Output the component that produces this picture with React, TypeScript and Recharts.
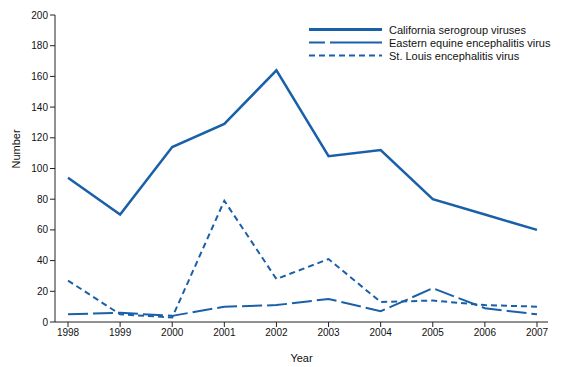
import { LineChart, Line, XAxis, YAxis } from "recharts";

const years = ["1998", "1999", "2000", "2001", "2002", "2003", "2004", "2005", "2006", "2007"];
const california = [94, 70, 114, 129, 164, 108, 112, 80, 70, 60];
const eastern = [5, 6, 4, 10, 11, 15, 7, 22, 9, 5];
const stLouis = [27, 5, 3, 79, 28, 41, 13, 14, 11, 10];
const yTicks = [0, 20, 40, 60, 80, 100, 120, 140, 160, 180, 200];

const data = years.map((year, i) => ({
  year,
  california: california[i],
  eastern: eastern[i],
  stLouis: stLouis[i],
}));

const BLUE = "#1a60a8";
const FONT = "'Liberation Sans', Arial, sans-serif";

const legendItems = [
  { label: "California  serogroup viruses", dash: undefined, width: 3 },
  { label: "Eastern equine encephalitis virus", dash: "16 5 60", width: 2 },
  { label: "St. Louis encephalitis virus", dash: "6 4", width: 2 },
];

// drawn outside the chart so it doesn't steal plot height
function LegendBox() {
  return (
    <div
      style={{
        position: "absolute",
        left: 309,
        top: 23,
        fontFamily: FONT,
        fontSize: 11,
        color: "#111",
      }}
    >
      {legendItems.map((item) => (
        <div key={item.label} style={{ display: "flex", alignItems: "center", height: 13 }}>
          <svg width={80} height={13}>
            <line
              x1={0}
              x2={73}
              y1={6.5}
              y2={6.5}
              stroke={BLUE}
              strokeWidth={item.width}
              strokeDasharray={item.dash}
            />
          </svg>
          <span>{item.label}</span>
        </div>
      ))}
    </div>
  );
}

export default function App() {
  return (
    <div style={{ position: "absolute", left: 0, top: 0, width: 565, height: 367, background: "#fff" }}>
      <LineChart
        width={565}
        height={367}
        data={data}
        margin={{ top: 15, right: 17, bottom: 0, left: 0 }}
      >
        <XAxis
          dataKey="year"
          padding={{ left: 13, right: 11 }}
          height={45}
          tick={{ fontSize: 10, fill: "#111", fontFamily: FONT }}
          tickSize={5}
          axisLine={{ stroke: "#222" }}
          tickLine={{ stroke: "#222" }}
          interval={0}
          label={{ value: "Year", position: "insideBottom", offset: 5, fontSize: 11, fill: "#111", fontFamily: FONT }}
        />
        <YAxis
          domain={[0, 200]}
          ticks={yTicks}
          width={55}
          tick={{ fontSize: 10, fill: "#111", fontFamily: FONT }}
          tickSize={5}
          axisLine={{ stroke: "#222" }}
          tickLine={{ stroke: "#222" }}
          interval={0}
          label={{ value: "Number", angle: -90, position: "insideLeft", offset: 16, fontSize: 11, fill: "#111", fontFamily: FONT }}
        />
        <YAxis
          yAxisId="right"
          orientation="right"
          domain={[0, 200]}
          width={0}
          tick={false}
          tickLine={false}
          axisLine={{ stroke: "#222" }}
        />
        <Line
          dataKey="california"
          stroke={BLUE}
          strokeWidth={2.5}
          dot={false}
          isAnimationActive={false}
        />
        <Line
          dataKey="eastern"
          stroke={BLUE}
          strokeWidth={2}
          strokeDasharray="20 5"
          dot={false}
          isAnimationActive={false}
        />
        <Line
          dataKey="stLouis"
          stroke={BLUE}
          strokeWidth={2}
          strokeDasharray="6 4"
          dot={false}
          isAnimationActive={false}
        />
      </LineChart>
      <LegendBox />
    </div>
  );
}
